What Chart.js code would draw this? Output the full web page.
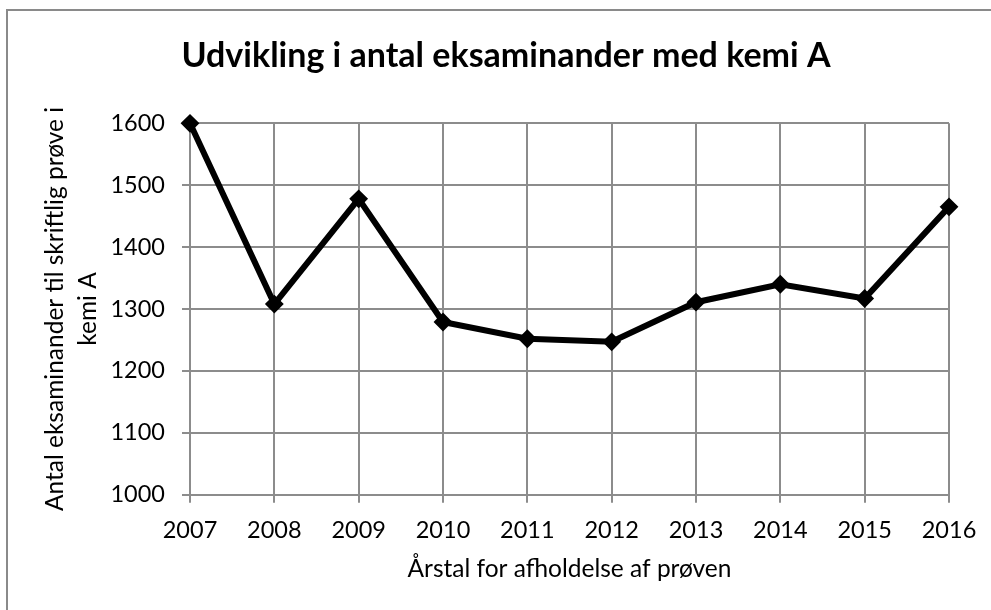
<!DOCTYPE html>
<html>
<head>
<meta charset="utf-8">
<script src="https://cdn.jsdelivr.net/npm/chart.js@4/dist/chart.umd.min.js"></script>
<style>
  html, body { margin: 0; padding: 0; background: #fff; overflow: hidden; }
  canvas { display: block; }
</style>
</head>
<body>
<canvas id="c" width="991" height="610"></canvas>
<script>
const years = ['2007','2008','2009','2010','2011','2012','2013','2014','2015','2016'];
const examinees = [1600, 1308, 1478, 1279, 1252, 1247, 1311, 1340, 1317, 1465];
const chartTitle = 'Udvikling i antal eksaminander med kemi A';
const xTitle = 'Årstal for afholdelse af prøven';
const yTitle = ['Antal eksaminander til skriftlig prøve i', 'kemi A'];
const yMin = 1000, yMax = 1600, yStep = 100;

const gridColor = '#8c8c8c';
const fontFamily = 'Lato, "Open Sans", sans-serif';

const frame = {
  id: 'frame',
  beforeDraw(chart) {
    const ctx = chart.ctx;
    ctx.save();
    ctx.fillStyle = '#ffffff';
    ctx.fillRect(0, 0, chart.width, chart.height);
    ctx.fillStyle = '#8a8a8a';
    ctx.fillRect(6, 9, chart.width, 2);
    ctx.fillRect(6, 9, 2, chart.height);
    ctx.restore();
  }
};

new Chart(document.getElementById('c'), {
  type: 'line',
  data: {
    labels: years,
    datasets: [{
      data: examinees,
      yAxisID: 'y',
      borderColor: '#000',
      backgroundColor: '#000',
      borderWidth: 6,
      pointStyle: 'rectRot',
      pointRadius: 8,
      pointBorderWidth: 2,
      pointBackgroundColor: '#000',
      pointBorderColor: '#000',
      tension: 0,
      clip: false
    }]
  },
  options: {
    responsive: false,
    animation: false,
    devicePixelRatio: 1,
    layout: { padding: { left: 21, right: 0, top: 0, bottom: 0 } },
    plugins: {
      legend: { display: false },
      tooltip: { enabled: false },
      title: {
        display: true,
        text: chartTitle,
        color: '#000',
        font: { family: fontFamily, size: 34, weight: 'bold', lineHeight: 1.2 },
        padding: { top: 35.6, bottom: 46.9 }
      }
    },
    scales: {
      x: {
        type: 'category',
        offset: false,
        grid: { display: true, color: gridColor, lineWidth: 2, drawTicks: true, tickLength: 8, tickColor: gridColor },
        border: { display: true, color: gridColor, width: 2 },
        ticks: { color: '#000', font: { family: fontFamily, size: 23.5 }, padding: 13.5, maxRotation: 0, autoSkip: false },
        title: {
          display: true, text: xTitle, color: '#000',
          font: { family: fontFamily, size: 24.5, lineHeight: 1.2 },
          padding: { top: 0, bottom: 26.3 }
        },
        afterFit(s) { s.height = 610 - 494.7; }
      },
      y: {
        type: 'linear',
        position: 'left',
        min: yMin, max: yMax,
        grid: { display: true, color: gridColor, lineWidth: 2, drawTicks: true, tickLength: 8, tickColor: gridColor },
        border: { display: true, color: gridColor, width: 2 },
        ticks: {
          stepSize: yStep, color: '#000', font: { family: fontFamily, size: 23.5 }, padding: 17,
          callback: (v) => String(v)
        },
        title: {
          display: true, text: yTitle, color: '#000',
          font: { family: fontFamily, size: 24.5, lineHeight: 1.36 },
          padding: { top: 17.5, bottom: 0 }
        },
        afterFit(s) { s.width = 190 - 21; }
      },
      yR: {
        type: 'linear',
        position: 'right',
        display: true,
        grid: { display: false, drawTicks: false },
        border: { display: false },
        ticks: { display: false },
        afterFit(s) { s.width = 42; }
      }
    }
  },
  plugins: [frame]
});
</script>
</body>
</html>
